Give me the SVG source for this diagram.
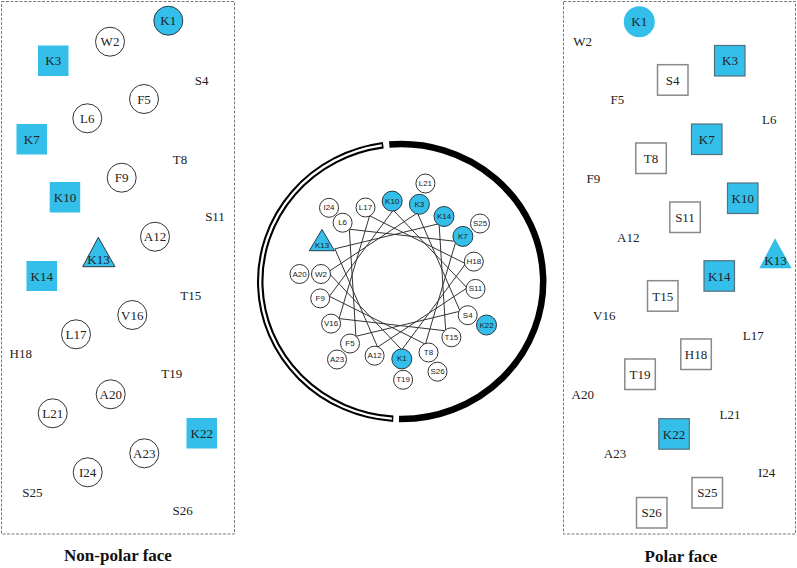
<svg xmlns="http://www.w3.org/2000/svg" width="797" height="568" viewBox="0 0 797 568">
<style>
.pan{fill:none;stroke:#7a7a7a;stroke-width:1;stroke-dasharray:3 1.5}
.c{fill:#fff;stroke:#333;stroke-width:1}
.cb{fill:#33bfe9;stroke:#2a3a44;stroke-width:1}
.bn{fill:#33bfe9;stroke:none}
.sq{fill:#fff;stroke:#8a8a8a;stroke-width:1.5}
.sqb{fill:#33bfe9;stroke:#55707c;stroke-width:1.2}
.tri{fill:#33bfe9;stroke:#2a3a44;stroke-width:1}
.t{font-family:"Liberation Serif","Times New Roman",serif;font-size:13px;fill:#222;text-anchor:middle;dominant-baseline:central}
.w{font-family:"Liberation Sans",Arial,sans-serif;font-size:8px;fill:#222;text-anchor:middle;dominant-baseline:central}
.h{font-family:"Liberation Serif","Times New Roman",serif;font-size:17px;font-weight:bold;fill:#111;text-anchor:middle}
.ln{stroke:#333;stroke-width:1;fill:none}
</style>
<rect fill="#fff" x="0" y="0" width="797" height="568"/>

<!-- Left panel: Non-polar face -->
<g id="left-panel">
<rect class="pan" x="1.5" y="1.5" width="233" height="532.5"/>
<g id="L-K1"><circle class="cb" cx="168.3" cy="20.7" r="14.5"/><text class="t" x="168.3" y="20.7">K1</text></g>
<g id="L-W2"><circle class="c" cx="110" cy="41.7" r="14.5"/><text class="t" x="110" y="41.7">W2</text></g>
<g id="L-K3"><rect class="bn" x="38" y="45.5" width="30.5" height="30.5"/><text class="t" x="53.3" y="60.7">K3</text></g>
<g id="L-S4"><text class="t" x="201.7" y="80.7">S4</text></g>
<g id="L-F5"><circle class="c" cx="144" cy="99" r="14.5"/><text class="t" x="144" y="99">F5</text></g>
<g id="L-L6"><circle class="c" cx="87.3" cy="118.3" r="14.5"/><text class="t" x="87.3" y="118.3">L6</text></g>
<g id="L-K7"><rect class="bn" x="16.5" y="124" width="30.5" height="30.5"/><text class="t" x="31.7" y="139">K7</text></g>
<g id="L-T8"><text class="t" x="180" y="159">T8</text></g>
<g id="L-F9"><circle class="c" cx="121.7" cy="177.7" r="14.5"/><text class="t" x="121.7" y="177.7">F9</text></g>
<g id="L-K10"><rect class="bn" x="49.7" y="182" width="30.5" height="30.5"/><text class="t" x="65" y="197.3">K10</text></g>
<g id="L-S11"><text class="t" x="215" y="216.7">S11</text></g>
<g id="L-A12"><circle class="c" cx="155" cy="236.7" r="14.5"/><text class="t" x="155" y="236.7">A12</text></g>
<g id="L-K13"><polygon class="tri" points="98.3,237.3 82.7,266.7 115,266.7"/><text class="t" x="98.5" y="259">K13</text></g>
<g id="L-K14"><rect class="bn" x="26.5" y="261" width="30.5" height="30"/><text class="t" x="41.8" y="276">K14</text></g>
<g id="L-T15"><text class="t" x="190.7" y="295">T15</text></g>
<g id="L-V16"><circle class="c" cx="132.3" cy="315" r="14.5"/><text class="t" x="132.3" y="315">V16</text></g>
<g id="L-L17"><circle class="c" cx="76" cy="334.3" r="14.5"/><text class="t" x="76" y="334.3">L17</text></g>
<g id="L-H18"><text class="t" x="20.7" y="353.3">H18</text></g>
<g id="L-T19"><text class="t" x="171.7" y="373.3">T19</text></g>
<g id="L-A20"><circle class="c" cx="110.7" cy="394.3" r="14.5"/><text class="t" x="110.7" y="394.3">A20</text></g>
<g id="L-L21"><circle class="c" cx="52.7" cy="413.3" r="14.5"/><text class="t" x="52.7" y="413.3">L21</text></g>
<g id="L-K22"><rect class="bn" x="186.5" y="418" width="30.5" height="30.5"/><text class="t" x="201.7" y="433.3">K22</text></g>
<g id="L-A23"><circle class="c" cx="144.3" cy="453.3" r="14.5"/><text class="t" x="144.3" y="453.3">A23</text></g>
<g id="L-I24"><circle class="c" cx="87.7" cy="472.3" r="14.5"/><text class="t" x="87.7" y="472.3">I24</text></g>
<g id="L-S25"><text class="t" x="32.3" y="492.7">S25</text></g>
<g id="L-S26"><text class="t" x="182.7" y="510.7">S26</text></g>
<text class="h" x="118" y="561">Non-polar face</text>
</g>

<!-- Right panel: Polar face -->
<g id="right-panel">
<rect class="pan" x="563.5" y="1.5" width="232" height="532.5"/>
<g id="R-K1"><circle class="bn" cx="639.3" cy="21.7" r="15.5"/><text class="t" x="639.3" y="21.7">K1</text></g>
<g id="R-W2"><text class="t" x="582.7" y="41.7">W2</text></g>
<g id="R-K3"><rect class="sqb" x="714.5" y="45.5" width="30.5" height="30.5"/><text class="t" x="730" y="60.7">K3</text></g>
<g id="R-S4"><rect class="sq" x="657.5" y="64.7" width="30.5" height="30.5"/><text class="t" x="672.7" y="80">S4</text></g>
<g id="R-F5"><text class="t" x="617.3" y="99">F5</text></g>
<g id="R-L6"><text class="t" x="769.3" y="119">L6</text></g>
<g id="R-K7"><rect class="sqb" x="691.5" y="124" width="30.5" height="30.5"/><text class="t" x="706.7" y="139.3">K7</text></g>
<g id="R-T8"><rect class="sq" x="635.8" y="143" width="30.5" height="30.5"/><text class="t" x="651" y="158.3">T8</text></g>
<g id="R-F9"><text class="t" x="593.3" y="178.3">F9</text></g>
<g id="R-K10"><rect class="sqb" x="727.5" y="183" width="30.5" height="30.5"/><text class="t" x="742.7" y="198.3">K10</text></g>
<g id="R-S11"><rect class="sq" x="669.8" y="202" width="30.5" height="30.5"/><text class="t" x="685" y="217.3">S11</text></g>
<g id="R-A12"><text class="t" x="628.3" y="237.7">A12</text></g>
<g id="R-K13"><polygon class="tri" points="775,238.3 759.3,268.3 791.7,268.3" style="stroke:none"/><text class="t" x="775.5" y="260">K13</text></g>
<g id="R-K14"><rect class="sqb" x="704" y="260.7" width="30.5" height="30.5"/><text class="t" x="719.3" y="276">K14</text></g>
<g id="R-T15"><rect class="sq" x="647.5" y="280.7" width="30.5" height="30.5"/><text class="t" x="662.7" y="296">T15</text></g>
<g id="R-V16"><text class="t" x="604.3" y="315">V16</text></g>
<g id="R-L17"><text class="t" x="753.3" y="335">L17</text></g>
<g id="R-H18"><rect class="sq" x="680.8" y="339" width="30.5" height="30.5"/><text class="t" x="696" y="354.3">H18</text></g>
<g id="R-T19"><rect class="sq" x="624.8" y="359" width="30.5" height="30.5"/><text class="t" x="640" y="374.3">T19</text></g>
<g id="R-A20"><text class="t" x="582.7" y="394">A20</text></g>
<g id="R-L21"><text class="t" x="730" y="414">L21</text></g>
<g id="R-K22"><rect class="sqb" x="658.8" y="418.7" width="30.5" height="30.5"/><text class="t" x="674" y="434">K22</text></g>
<g id="R-A23"><text class="t" x="615" y="453.3">A23</text></g>
<g id="R-I24"><text class="t" x="766.7" y="472.7">I24</text></g>
<g id="R-S25"><rect class="sq" x="692" y="477.5" width="30.5" height="30.5"/><text class="t" x="707.3" y="492.7">S25</text></g>
<g id="R-S26"><rect class="sq" x="636.5" y="497.5" width="30.5" height="30.5"/><text class="t" x="651.7" y="512.7">S26</text></g>
<text class="h" x="681" y="562">Polar face</text>
</g>

<!-- Outer arcs around the helical wheel -->
<g id="arcs">
<path d="M383.3,145.2 A142,137.5 0 0 0 393.3,418.7" fill="none" stroke="#000" stroke-width="6.5"/>
<path d="M381.75,145.4 A142,137.5 0 0 0 391.85,418.6" fill="none" stroke="#fff" stroke-width="2.3"/>
<path d="M389.3,144.5 A142,137.5 0 1 1 399,419" fill="none" stroke="#000" stroke-width="6.5"/>
</g>

<!-- Connectors of the helical wheel (residue i to i+1) -->
<g id="connectors" class="ln">
<polygon points="401.8,349.9 327.9,272.1 417.4,212.9 460.1,311.2 355.9,336.3 349.3,229.2 455.9,241.4 425.4,344.2 329.4,296.3 393.2,210.1 467.1,287.9 377.6,347.1 334.9,248.8 439.1,223.7 445.7,330.8 339.1,318.6 369.6,215.8 465.6,263.7"/>
</g>

<!-- Helical wheel nodes -->
<g id="wheel">
<g id="W-K1"><circle class="cb" cx="401.8" cy="358.9" r="10"/><text class="w" x="401.8" y="358.9">K1</text></g>
<g id="W-W2"><circle class="c" cx="321" cy="274" r="9.5"/><text class="w" x="321" y="274">W2</text></g>
<g id="W-K3"><circle class="cb" cx="419.4" cy="204.3" r="10"/><text class="w" x="419.4" y="204.3">K3</text></g>
<g id="W-S4"><circle class="c" cx="467.7" cy="315.2" r="9.5"/><text class="w" x="467.7" y="315.2">S4</text></g>
<g id="W-F5"><circle class="c" cx="350" cy="343.5" r="9.5"/><text class="w" x="350" y="343.5">F5</text></g>
<g id="W-L6"><circle class="c" cx="342.6" cy="222.7" r="9.5"/><text class="w" x="342.6" y="222.7">L6</text></g>
<g id="W-K7"><circle class="cb" cx="462.9" cy="236.4" r="10"/><text class="w" x="462.9" y="236.4">K7</text></g>
<g id="W-T8"><circle class="c" cx="428.5" cy="352.5" r="9.5"/><text class="w" x="428.5" y="352.5">T8</text></g>
<g id="W-F9"><circle class="c" cx="320.2" cy="298.4" r="9.5"/><text class="w" x="320.2" y="298.4">F9</text></g>
<g id="W-K10"><circle class="cb" cx="392.2" cy="201.1" r="10"/><text class="w" x="392.2" y="201.1">K10</text></g>
<g id="W-S11"><circle class="c" cx="475.5" cy="288.9" r="9.5"/><text class="w" x="475.5" y="288.9">S11</text></g>
<g id="W-A12"><circle class="c" cx="374.6" cy="355.7" r="9.5"/><text class="w" x="374.6" y="355.7">A12</text></g>
<g id="W-K13"><polygon class="tri" points="322,229.5 309.3,250.7 334.5,250.7"/><text class="w" x="322" y="245.5">K13</text></g>
<g id="W-K14"><circle class="cb" cx="444" cy="216.5" r="10"/><text class="w" x="444" y="216.5">K14</text></g>
<g id="W-T15"><circle class="c" cx="451.4" cy="337.3" r="9.5"/><text class="w" x="451.4" y="337.3">T15</text></g>
<g id="W-V16"><circle class="c" cx="331.1" cy="323.6" r="9.5"/><text class="w" x="331.1" y="323.6">V16</text></g>
<g id="W-L17"><circle class="c" cx="365.5" cy="207.5" r="9.5"/><text class="w" x="365.5" y="207.5">L17</text></g>
<g id="W-H18"><circle class="c" cx="473.8" cy="261.6" r="9.5"/><text class="w" x="473.8" y="261.6">H18</text></g>
<g id="W-T19"><circle class="c" cx="403.1" cy="379.8" r="9.5"/><text class="w" x="403.1" y="379.8">T19</text></g>
<g id="W-A20"><circle class="c" cx="299.5" cy="274" r="9.5"/><text class="w" x="299.5" y="274">A20</text></g>
<g id="W-L21"><circle class="c" cx="425.4" cy="183.5" r="9.5"/><text class="w" x="425.4" y="183.5">L21</text></g>
<g id="W-K22"><circle class="cb" cx="486.5" cy="325" r="10"/><text class="w" x="486.5" y="325">K22</text></g>
<g id="W-A23"><circle class="c" cx="337" cy="359.5" r="9.5"/><text class="w" x="337" y="359.5">A23</text></g>
<g id="W-I24"><circle class="c" cx="329" cy="207.8" r="9.5"/><text class="w" x="329" y="207.8">I24</text></g>
<g id="W-S25"><circle class="c" cx="480" cy="223.5" r="9.5"/><text class="w" x="480" y="223.5">S25</text></g>
<g id="W-S26"><circle class="c" cx="437.5" cy="371.7" r="9.5"/><text class="w" x="437.5" y="371.7">S26</text></g>
</g>
</svg>
